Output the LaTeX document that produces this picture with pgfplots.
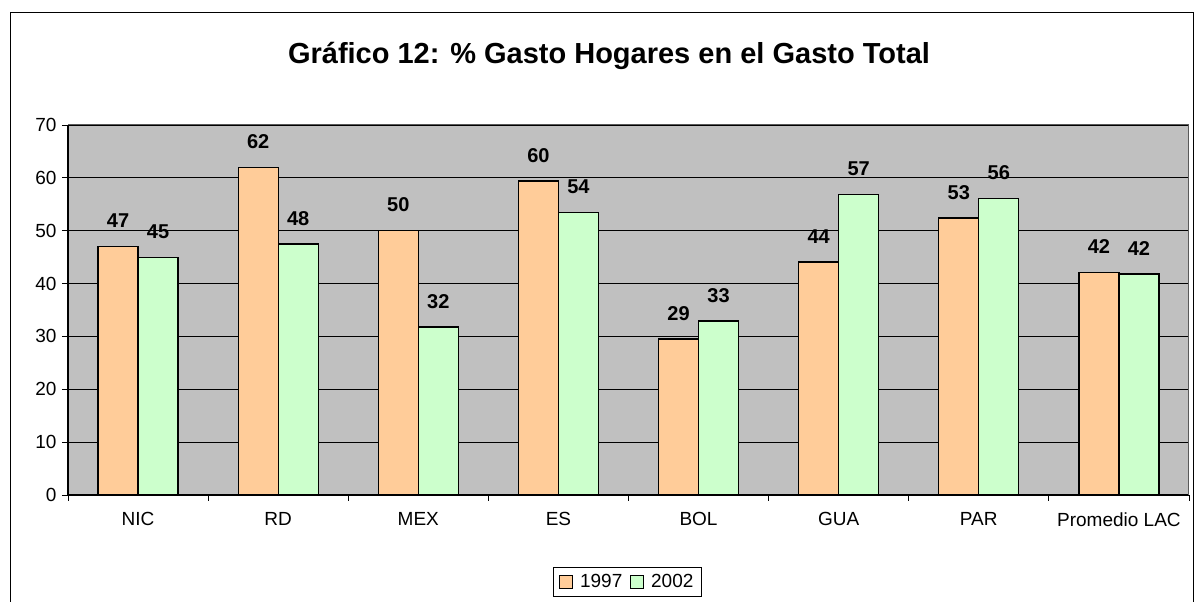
\documentclass[border=0pt]{standalone}
\usepackage{fontspec}
\setmainfont{Liberation Sans}
\usepackage{pgfplots}
\pgfplotsset{compat=1.18}

\definecolor{cPeach}{HTML}{FFCC99}
\definecolor{cMint}{HTML}{CCFFCC}
\definecolor{cPlot}{HTML}{C0C0C0}

\begin{document}
\begin{tikzpicture}[x=1pt,y=1pt]
  \clip (0,0) rectangle (1194,602);
  \draw[black, line width=1pt] (10,-10) rectangle (1193,589);
  \node[font=\fontsize{29}{33}\selectfont\bfseries] at (609,546) {Gráfico 12: \% Gasto Hogares en el Gasto Total};
  \begin{axis}[
      at={(68pt,107pt)},
      scale only axis,
      width=1121pt, height=370pt,
      ybar=0pt, bar width=40pt,
      xmin=-0.5, xmax=7.5,
      ymin=0, ymax=70,
      ytick={0,10,...,70},
      xtick={0,...,7},
      xticklabels={NIC,RD,MEX,ES,BOL,GUA,PAR,Promedio LAC},
      minor xtick={-0.5,0.5,...,7.5},
      tick align=outside,
      major tick length=6pt,
      minor tick length=6pt,
      major x tick style={draw=none},
      tick style={black, line width=0.8pt},
      axis x line*=bottom,
      axis y line*=left,
      axis line style={black, line width=1pt},
      axis background/.style={fill=cPlot},
      ymajorgrids,
      grid style={black, line width=0.8pt},
      /pgf/number format/assume math mode=true,
      tick label style={font=\fontsize{19}{22}\selectfont},
      xticklabel style={yshift=-8pt},
      yticklabel style={xshift=-2pt},
      nodes near coords,
      point meta=explicit symbolic,
      every node near coord/.append style={font=\fontsize{20}{23}\selectfont\bfseries, anchor=south, inner sep=0pt, yshift=18pt},
      legend style={at={(0.499,-0.235)}, anchor=center, draw=black, line width=0.8pt, fill=white,
        font=\fontsize{19}{22}\selectfont, legend columns=2,
        inner xsep=6pt, inner ysep=5pt,
        /tikz/every odd column/.append style={column sep=5pt},
        /tikz/every even column/.append style={column sep=6pt}},
      legend image code/.code={\draw[#1, line width=0.8pt] (0pt,-6pt) rectangle (13pt,7pt);},
      after end axis/.code={
        \draw[gray!70!black, line width=1pt] (rel axis cs:0,1) -- (rel axis cs:1,1) -- (rel axis cs:1,0);
      },
    ]
    \addplot[fill=cPeach, draw=black, line width=1.3pt] coordinates {
      (0,47.0) [47] (1,62.0) [62] (2,50.0) [50] (3,59.4) [60]
      (4,29.5) [29] (5,44.1) [44] (6,52.4) [53] (7,42.1) [42]};
    \addlegendentry{1997}
    \addplot[fill=cMint, draw=black, line width=1.3pt] coordinates {
      (0,44.9) [45] (1,47.5) [48] (2,31.8) [32] (3,53.5) [54]
      (4,32.9) [33] (5,56.9) [57] (6,56.1) [56] (7,41.8) [42]};
    \addlegendentry{2002}
  \end{axis}
\end{tikzpicture}
\end{document}
